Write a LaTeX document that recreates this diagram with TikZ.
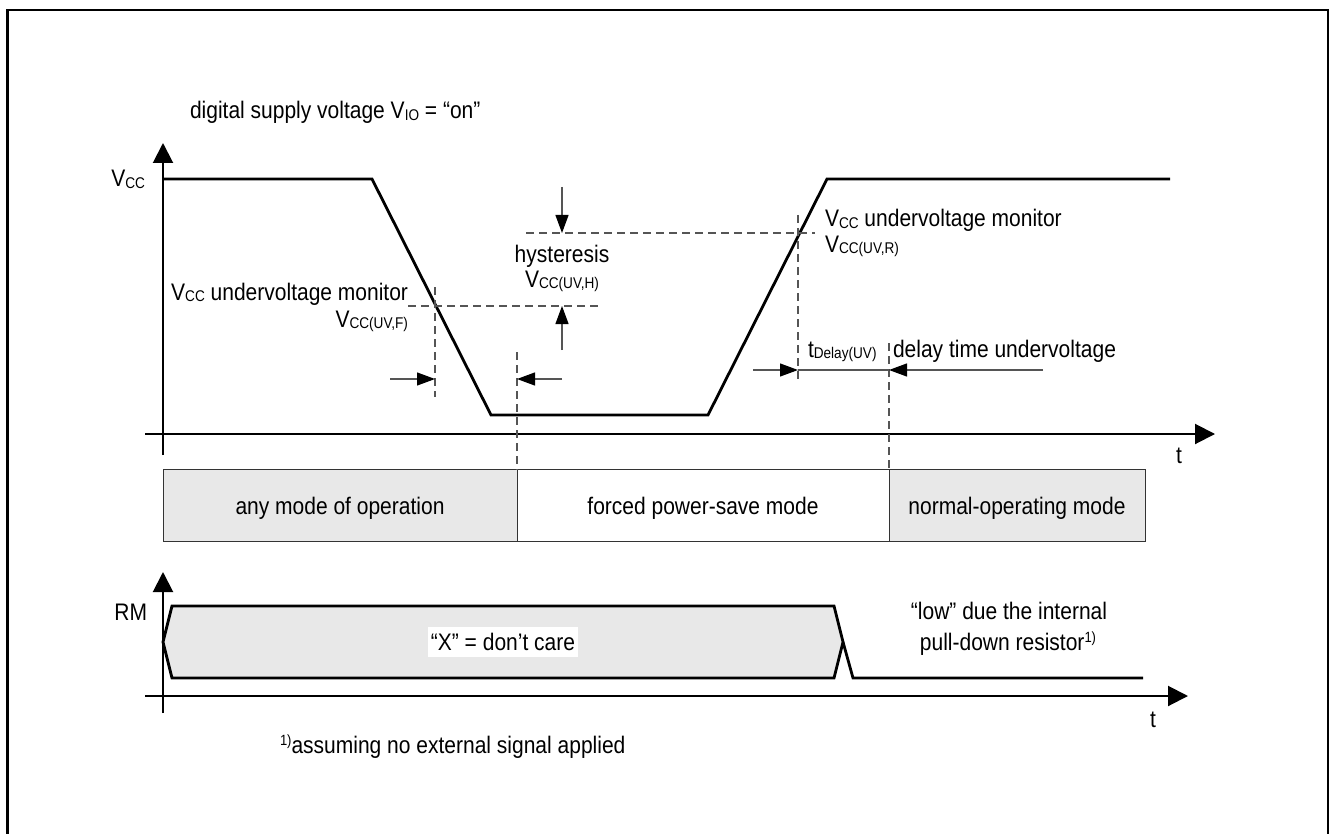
\documentclass[tikz,border=0pt]{standalone}
\usepackage{fontspec}
\setmainfont{Liberation Sans}
\usetikzlibrary{arrows.meta}
\definecolor{lg}{HTML}{E8E8E8}
\definecolor{dimgray}{HTML}{555555}
\newcommand{\sbs}[1]{\raisebox{-0.6pt}{\fontsize{6.8}{8}\selectfont #1}}
\newcommand{\sps}[1]{\raisebox{3.4pt}{\fontsize{6.5}{7}\selectfont #1}}
\newcommand{\tx}[1]{\scalebox{1}[1.14]{#1}}
\begin{document}
\begin{tikzpicture}[x=0.5pt,y=-0.5pt,
  font=\fontsize{10.5}{12.6}\selectfont,
  axisline/.style={line width=1pt,-{Triangle[length=10pt,width=10pt]}},
  sig/.style={line width=1.4pt,line join=miter},
  dashln/.style={dimgray,line width=0.6pt,dash pattern=on 4pt off 2.5pt},
  dimarrow/.style={dimgray,line width=0.6pt,-{Triangle[length=9pt,width=6.5pt,black]}},
  dimline/.style={dimgray,line width=0.6pt},
  lbl/.style={inner sep=0pt,outer sep=0pt},
  modebox/.style={draw=black!80,line width=0.5pt,inner sep=0pt,outer sep=0pt,minimum height=36pt}]
\useasboundingbox (0,0) rectangle (1332,834);
% frame
\draw[line width=1.3pt] (7.5,840) -- (7.5,10) -- (1328,10) -- (1328,840);

% ---------- top diagram ----------
\coordinate (ya0) at (163,455);
\coordinate (ya1) at (163,143);
\coordinate (xa0) at (145,434);
\coordinate (xa1) at (1215,434);
\draw[axisline] (ya0) -- (ya1);
\draw[axisline] (xa0) -- (xa1);

\coordinate (s0) at (163,179);
\coordinate (s1) at (372,179);
\coordinate (s2) at (491,415);
\coordinate (s3) at (708,415);
\coordinate (s4) at (827,179);
\coordinate (s5) at (1170,179);
\draw[sig] (s0) -- (s1) -- (s2) -- (s3) -- (s4) -- (s5);

% mode bar
\node[modebox,fill=lg,minimum width=177pt] (m1) at (340,505.5) {};
\node[modebox,fill=white,minimum width=186pt] (m2) at (703,505.5) {};
\node[modebox,fill=lg,minimum width=128pt] (m3) at (1017,505.5) {};
\node[lbl,anchor=base] (m1t) at (m1.center |- 0,514) {\tx{any mode of operation}};
\node[lbl,anchor=base] (m2t) at (m2.center |- 0,514) {\tx{forced power-save mode}};
\node[lbl,anchor=base] (m3t) at (m3.center |- 0,514) {\tx{normal-operating mode}};

% dashed helper lines
\coordinate (hf0) at (408,306); \coordinate (hf1) at (599,306);
\coordinate (vf0) at (435,287); \coordinate (vf1) at (435,397);
\coordinate (hr0) at (526,233); \coordinate (hr1) at (815,233);
\coordinate (vr0) at (798,215); \coordinate (vr1) at (798,383);
\coordinate (vm0) at (517,352);
\coordinate (vd0) at (889,343);
\draw[dashln] (hf0) -- (hf1);
\draw[dashln] (vf0) -- (vf1);
\draw[dashln] (hr0) -- (hr1);
\draw[dashln] (vr0) -- (vr1);
\draw[dashln] (vm0) -- (m1.north east);
\draw[dashln] (vd0) -- (m2.north east);

% dimension arrows
\coordinate (ha0) at (562,187); \coordinate (ha1) at (562,233);
\coordinate (hb0) at (562,350); \coordinate (hb1) at (562,306);
\coordinate (fa0) at (390,379); \coordinate (fa1) at (435,379);
\coordinate (fb0) at (562,379); \coordinate (fb1) at (517,379);
\coordinate (da0) at (753,370); \coordinate (da1) at (798,370);
\coordinate (db0) at (1043,370); \coordinate (db1) at (889,370);
\draw[dimarrow] (ha0) -- (ha1);
\draw[dimarrow] (hb0) -- (hb1);
\draw[dimarrow] (fa0) -- (fa1);
\draw[dimarrow] (fb0) -- (fb1);
\draw[dimline] (da1) -- (db1);
\draw[dimarrow] (da0) -- (da1);
\draw[dimarrow] (db0) -- (db1);

% labels
\node[lbl,anchor=base west] (title) at (190,119) {\tx{digital supply voltage V\sbs{IO} = “on”}};
\node[lbl,anchor=base east] (vcc) at (145,187) {\tx{V\sbs{CC}}};
\node[lbl,anchor=base east] (monf) at (408,300) {\tx{V\sbs{CC} undervoltage monitor}};
\node[lbl,anchor=base east] (vuvf) at (408,327) {\tx{V\sbs{CC(UV,F)}}};
\node[lbl,anchor=base] (hyst) at (562,263) {\tx{hysteresis}};
\node[lbl,anchor=base] (vuvh) at (562,287) {\tx{V\sbs{CC(UV,H)}}};
\node[lbl,anchor=base west] (monr) at (825,227) {\tx{V\sbs{CC} undervoltage monitor}};
\node[lbl,anchor=base west] (vuvr) at (825,252) {\tx{V\sbs{CC(UV,R)}}};
\node[lbl,anchor=base west] (tdel) at (808,357) {\tx{t\sbs{Delay(UV)}}};
\node[lbl,anchor=base west] (dtu) at (893,357) {\tx{delay time undervoltage}};
\node[lbl,anchor=base] (t1) at (1179,463) {\tx{t}};

% ---------- RM diagram ----------
\coordinate (ry0) at (163,713);
\coordinate (ry1) at (163,572);
\coordinate (rx0) at (145,696);
\coordinate (rx1) at (1188,696);
\draw[axisline] (ry0) -- (ry1);
\draw[axisline] (rx0) -- (rx1);

\coordinate (r0) at (163,642);
\coordinate (r1) at (172,606);
\coordinate (r2) at (834,606);
\coordinate (r3) at (843,642);
\coordinate (r4) at (834,678);
\coordinate (r5) at (172,678);
\coordinate (r6) at (853,678);
\coordinate (r7) at (1143,678);
\draw[sig,fill=lg] (r0) -- (r1) -- (r2) -- (r3) -- (r4) -- (r5) -- cycle;
\draw[sig] (r3) -- (r6) -- (r7);

\node[fill=white,inner xsep=1.5pt,inner ysep=0pt,minimum height=15pt] (dc) at (503,642) {\tx{“X” = don’t care}};
\node[lbl,anchor=base east] (rm) at (147,620) {\tx{RM}};
\node[lbl,anchor=base] (low1) at (1009,619) {\tx{“low” due the internal}};
\node[lbl,anchor=base] (low2) at (1008,650) {\tx{pull-down resistor\sps{1)}}};
\node[lbl,anchor=base] (t2) at (1153,727) {\tx{t}};
\node[lbl,anchor=base west] (fn) at (280,753) {\tx{\sps{1)}assuming no external signal applied}};
\end{tikzpicture}
\end{document}
